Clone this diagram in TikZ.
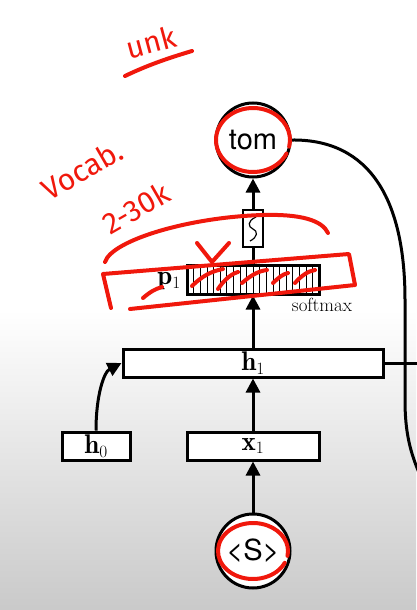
\documentclass[tikz,border=0pt]{standalone}
\usepackage{fontspec}
\usepackage{amsmath}
\usetikzlibrary{arrows.meta}
\newfontfamily\helv{TeX Gyre Heros}
\newfontfamily\hand{Fira Sans}
\definecolor{pen}{RGB}{240,24,12}
\begin{document}
\begin{tikzpicture}[x=1pt,y=-1pt,
  blk/.style={draw=black, line width=3pt},
  boxnode/.style={blk, fill=white, rectangle, inner sep=0pt},
  ring/.style={blk, circle, fill=white, inner sep=0pt, minimum size=74pt, font=\helv\fontsize{29}{32}\selectfont},
  arr/.style={line width=3pt, -{Triangle[width=14pt,length=14pt]}},
  plain/.style={line width=3pt},
  red/.style={draw=pen, line width=4pt, line cap=round, line join=round},
  redtxt/.style={text=pen, inner sep=0pt, font=\hand\fontsize{30}{32}\selectfont},
  lab/.style={font=\fontsize{27}{29}\selectfont}
]
% background
\useasboundingbox (0,0) rectangle (416,610);
\fill[white] (0,0) rectangle (416,310);
\shade[top color=white, bottom color=black!21] (0,310) rectangle (416,610);

% nodes
\node[ring] (tom) at (253,140) {tom};
\node[draw=black, line width=1.2pt, fill=white, inner sep=0pt, minimum width=20pt, minimum height=37pt] (nl) at (253,228.5) {};
\node[boxnode, minimum width=132pt, minimum height=29pt] (p) at (253,279.5) {};
\node[boxnode, minimum width=260pt, minimum height=28pt, lab] (h1) at (253,363) {$\mathbf{h}_1$};
\node[boxnode, minimum width=68pt, minimum height=28pt, lab] (h0) at (96,446) {$\mathbf{h}_0$};
\node[boxnode, minimum width=132pt, minimum height=28pt, lab] (x1) at (253,446) {$\mathbf{x}_1$};
\node[ring] (s) at (253,551) {<S>};
\node[anchor=east, lab, inner sep=0pt] (plab) at (181,281) {$\mathbf{p}_1$};
\node[font=\fontsize{19}{20}\selectfont, inner sep=0pt] (soft) at (322,305) {softmax};

% hatch of the softmax box
\foreach \i in {1,...,19} \draw[line width=0.5pt] (187+\i*6.6,266.5) -- (187+\i*6.6,292.5);
% tilde in the small box
\draw[line width=1.2pt] (256,217) .. controls (247,221) and (248,227) .. (253,229) .. controls (258,231) and (258,237) .. (250,241);

% connectors
\draw[arr] (nl.north) -- (tom.south);
\draw[plain] (p.north) -- (nl.south);
\draw[arr] (h1.north) -- (p.south);
\draw[arr] (x1.north) -- (h1.south);
\draw[arr] (s.north) -- (x1.south);
\draw[arr] (h0.north) .. controls (96,395) and (104,372) .. (h1.west);
\coordinate (loopend) at (420,475);
\coordinate (h1end) at (420,363);
\draw[plain] (tom.east) .. controls (370,139) and (405,200) .. (405,300) -- (405,400) .. controls (405,432) and (410,452) .. (loopend);
\draw[plain] (h1.east) -- (h1end);

% red annotations
\node[redtxt, rotate=15] (unk) at (151,42) {unk};
\draw[red] (125,76) .. controls (150,64) and (172,57) .. (192,51);
\node[redtxt, rotate=30] (voc) at (82,170) {Vocab.};
\node[redtxt, rotate=30] (num) at (136,208) {2-30k};
\draw[red] (tom.center) ++(25:37 and 32) arc[start angle=25, end angle=372, x radius=37, y radius=32];
\draw[red] (s.center) ++(25:35 and 28) arc[start angle=25, end angle=370, x radius=35, y radius=28];
\draw[red] (105,262) .. controls (112,240) and (190,217) .. (263,215) .. controls (300,214) and (322,220) .. (328,233);
\draw[red] (130,309) -- (355,285) -- (349,254) -- (103,274) -- (111,308);
\draw[red] (197,243) -- (212,262) -- (229,243);
\draw[red] (143,298) .. controls (150,292) and (155,289) .. (162,287);
\draw[red] (192,286) .. controls (202,276) and (212,271) .. (223,269);
\draw[red] (218,289) .. controls (224,280) and (231,274) .. (238,272);
\draw[red] (242,283) .. controls (250,276) and (258,271) .. (267,270);
\draw[red] (273,283) .. controls (278,278) and (283,274) .. (288,273);
\draw[red] (295,283) .. controls (301,276) and (308,271) .. (315,270);
\end{tikzpicture}
\end{document}
